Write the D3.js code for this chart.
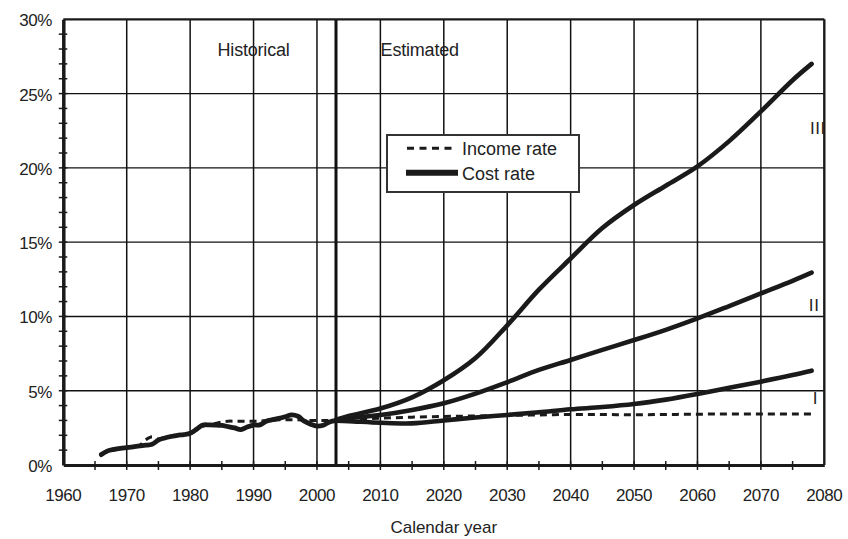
<!DOCTYPE html>
<html>
<head>
<meta charset="utf-8">
<script src="https://cdn.jsdelivr.net/npm/d3@7"></script>
<style>
  html, body { margin: 0; padding: 0; background: #fff; }
  svg { display: block; font-family: "Liberation Sans", Arial, sans-serif; }
</style>
</head>
<body>
<svg id="chart" width="848" height="539"></svg>
<script>
// ---- data ----
const historicalYears = [1966,1967,1968,1969,1970,1971,1972,1973,1974,1975,1976,1977,1978,1979,1980,1981,1982,1983,1984,1985,1986,1987,1988,1989,1990,1991,1992,1993,1994,1995,1996,1997,1998,1999,2000,2001,2002,2003];
const historicalCost   = [0.70,0.95,1.05,1.12,1.17,1.22,1.28,1.33,1.40,1.68,1.82,1.92,2.00,2.05,2.13,2.40,2.69,2.70,2.69,2.66,2.58,2.50,2.38,2.55,2.69,2.70,2.95,3.05,3.14,3.25,3.37,3.28,2.95,2.75,2.62,2.68,2.90,2.98];
const historicalIncome = [0.70,0.90,1.00,1.10,1.20,1.25,1.30,1.70,1.90,1.75,1.85,1.95,2.00,2.05,2.10,2.35,2.60,2.70,2.80,2.90,2.95,2.95,2.95,2.95,2.95,2.95,3.00,3.00,3.05,3.05,3.05,3.05,3.00,3.00,3.00,3.00,3.00,3.00];

const projectionYears = [2003,2005,2010,2015,2020,2025,2030,2035,2040,2045,2050,2055,2060,2065,2070,2075,2078];
const incomeProjected = [3.00,3.05,3.15,3.22,3.27,3.30,3.33,3.37,3.40,3.40,3.38,3.40,3.42,3.43,3.43,3.43,3.43];
const costAltI   = [2.98,2.95,2.84,2.80,3.00,3.20,3.37,3.55,3.75,3.90,4.10,4.40,4.78,5.20,5.61,6.05,6.35];
const costAltII  = [3.00,3.15,3.36,3.70,4.15,4.80,5.57,6.40,7.07,7.75,8.41,9.10,9.87,10.70,11.55,12.40,12.95];
const costAltIII = [3.05,3.30,3.80,4.55,5.70,7.20,9.40,11.80,13.90,15.95,17.50,18.80,20.10,21.80,23.80,25.90,27.00];

const xTickYears = [1960,1970,1980,1990,2000,2010,2020,2030,2040,2050,2060,2070,2080];
const yTickValues = [0,5,10,15,20,25,30];
const periodLabels = [{text: "Historical", year: 1990.0}, {text: "Estimated", year: 2016.2}];
const altLabels = [{text: "III", year: 2079.0, value: 22.75}, {text: "II", year: 2078.4, value: 10.8}, {text: "I", year: 2078.6, value: 4.55}];
const legendItems = ["Income rate", "Cost rate"];
const estimateStartYear = 2003;
const xTitle = "Calendar year";

// ---- layout ----
const margin = {left: 63.3, right: 848 - 824.3, top: 19.3, bottom: 539 - 465};
const W = 848, H = 539;
const svg = d3.select("#chart");
const x = d3.scaleLinear().domain([1960, 2080]).range([margin.left, W - margin.right]);
const y = d3.scaleLinear().domain([0, 30]).range([H - margin.bottom, margin.top]);

// gridlines
const grid = svg.append("g");
grid.selectAll("line.v").data(xTickYears.filter(d => d > 1960 && d < 2080)).join("line")
  .attr("x1", d => x(d)).attr("x2", d => x(d)).attr("y1", y(0)).attr("y2", y(30))
  .attr("stroke", "#111").attr("stroke-width", 1.5);
grid.selectAll("line.h").data(yTickValues.filter(d => d > 0 && d < 30)).join("line")
  .attr("x1", x(1960)).attr("x2", x(2080)).attr("y1", d => y(d)).attr("y2", d => y(d))
  .attr("stroke", "#111").attr("stroke-width", 1.4);
// estimate boundary
grid.append("line")
  .attr("x1", x(estimateStartYear)).attr("x2", x(estimateStartYear)).attr("y1", y(0)).attr("y2", y(30))
  .attr("stroke", "#111").attr("stroke-width", 3);

// frame top/right
svg.append("line").attr("x1", x(1960)).attr("x2", x(2080)).attr("y1", y(30)).attr("y2", y(30))
  .attr("stroke", "#1a1a1a").attr("stroke-width", 2.2);
svg.append("line").attr("x1", x(2080)).attr("x2", x(2080)).attr("y1", y(30)).attr("y2", y(0))
  .attr("stroke", "#1a1a1a").attr("stroke-width", 2.4);

// axes
const xAxis = d3.axisBottom(x).tickValues(d3.range(1960, 2081, 5)).tickSize(0).tickFormat("");
const gx = svg.append("g").attr("transform", `translate(0,${y(0)})`).call(xAxis);
gx.select(".domain").attr("stroke", "#1a1a1a").attr("stroke-width", 3);
svg.append("g").selectAll("line").data(d3.range(1965, 2080, 5)).join("line")
  .attr("x1", d => x(d)).attr("x2", d => x(d)).attr("y1", y(0) - 4).attr("y2", y(0) + 5)
  .attr("stroke", "#1a1a1a").attr("stroke-width", 1.5);
svg.append("g").selectAll("text").data(xTickYears).join("text")
  .attr("x", d => x(d)).attr("y", 501).attr("text-anchor", "middle")
  .attr("font-size", 17).attr("fill", "#222").attr("letter-spacing", -0.4).text(d => d);

const yAxis = d3.axisLeft(y).tickValues(yTickValues).tickSize(0).tickFormat("");
const gy = svg.append("g").attr("transform", `translate(${x(1960)},0)`).call(yAxis);
gy.select(".domain").attr("stroke", "#1a1a1a").attr("stroke-width", 3.5);
svg.append("g").selectAll("line").data(d3.range(1, 30, 1)).join("line")
  .attr("x1", x(1960) - 4.5).attr("x2", x(1960) + 4).attr("y1", d => y(d)).attr("y2", d => y(d))
  .attr("stroke", "#1a1a1a").attr("stroke-width", 1.5);
svg.append("g").selectAll("text").data(yTickValues).join("text")
  .attr("x", 52).attr("y", d => y(d) + 7).attr("text-anchor", "end")
  .attr("font-size", 17).attr("fill", "#222").attr("letter-spacing", -0.4).text(d => d + "%");

// lines
const line = d3.line().x(d => x(d[0])).y(d => y(d[1])).curve(d3.curveCatmullRom.alpha(0.5));
const zip = (a, b) => a.map((v, i) => [v, b[i]]);
const plot = svg.append("g");
plot.append("path").datum(zip(historicalYears, historicalIncome)).attr("d", line)
  .attr("fill", "none").attr("stroke", "#1a1a1a").attr("stroke-width", 3).attr("stroke-dasharray", "7,5");
plot.append("path").datum(zip(projectionYears, incomeProjected)).attr("d", line)
  .attr("fill", "none").attr("stroke", "#1a1a1a").attr("stroke-width", 3).attr("stroke-dasharray", "7,5");
[historicalCost].forEach(s => {
  plot.append("path").datum(zip(historicalYears, s)).attr("d", line)
    .attr("fill", "none").attr("stroke", "#1a1a1a").attr("stroke-width", 4.8)
    .attr("stroke-linecap", "round").attr("stroke-linejoin", "round");
});
[costAltI, costAltII, costAltIII].forEach(s => {
  plot.append("path").datum(zip(projectionYears, s)).attr("d", line)
    .attr("fill", "none").attr("stroke", "#1a1a1a").attr("stroke-width", 4.6)
    .attr("stroke-linecap", "round").attr("stroke-linejoin", "round");
});

// period labels
svg.append("g").selectAll("text").data(periodLabels).join("text")
  .attr("x", d => x(d.year)).attr("y", 56).attr("text-anchor", "middle")
  .attr("font-size", 18).attr("letter-spacing", -0.2).attr("fill", "#222").text(d => d.text);

// alternative labels
svg.append("g").selectAll("text").data(altLabels).join("text")
  .attr("x", d => x(d.year)).attr("y", d => y(d.value) + 6.5).attr("text-anchor", "middle")
  .attr("font-size", 17).attr("letter-spacing", 0.6).attr("fill", "#222").text(d => d.text);

// legend
const lg = svg.append("g");
lg.append("rect").attr("x", 387).attr("y", 135).attr("width", 192).attr("height", 57)
  .attr("fill", "#fff").attr("stroke", "#333").attr("stroke-width", 2);
lg.append("line").attr("x1", 407).attr("x2", 452).attr("y1", 148.3).attr("y2", 148.3)
  .attr("stroke", "#1a1a1a").attr("stroke-width", 3).attr("stroke-dasharray", "7,5.5");
lg.append("line").attr("x1", 406).attr("x2", 458).attr("y1", 172.7).attr("y2", 172.7)
  .attr("stroke", "#1a1a1a").attr("stroke-width", 6);
lg.selectAll("text").data(legendItems).join("text")
  .attr("x", 462).attr("y", (d, i) => 155 + i * 25)
  .attr("font-size", 18).attr("fill", "#222").text(d => d);

// axis title
svg.append("text").attr("x", (x(1960) + x(2080)) / 2).attr("y", 533).attr("text-anchor", "middle")
  .attr("font-size", 17).attr("fill", "#222").text(xTitle);
</script>
</body>
</html>
